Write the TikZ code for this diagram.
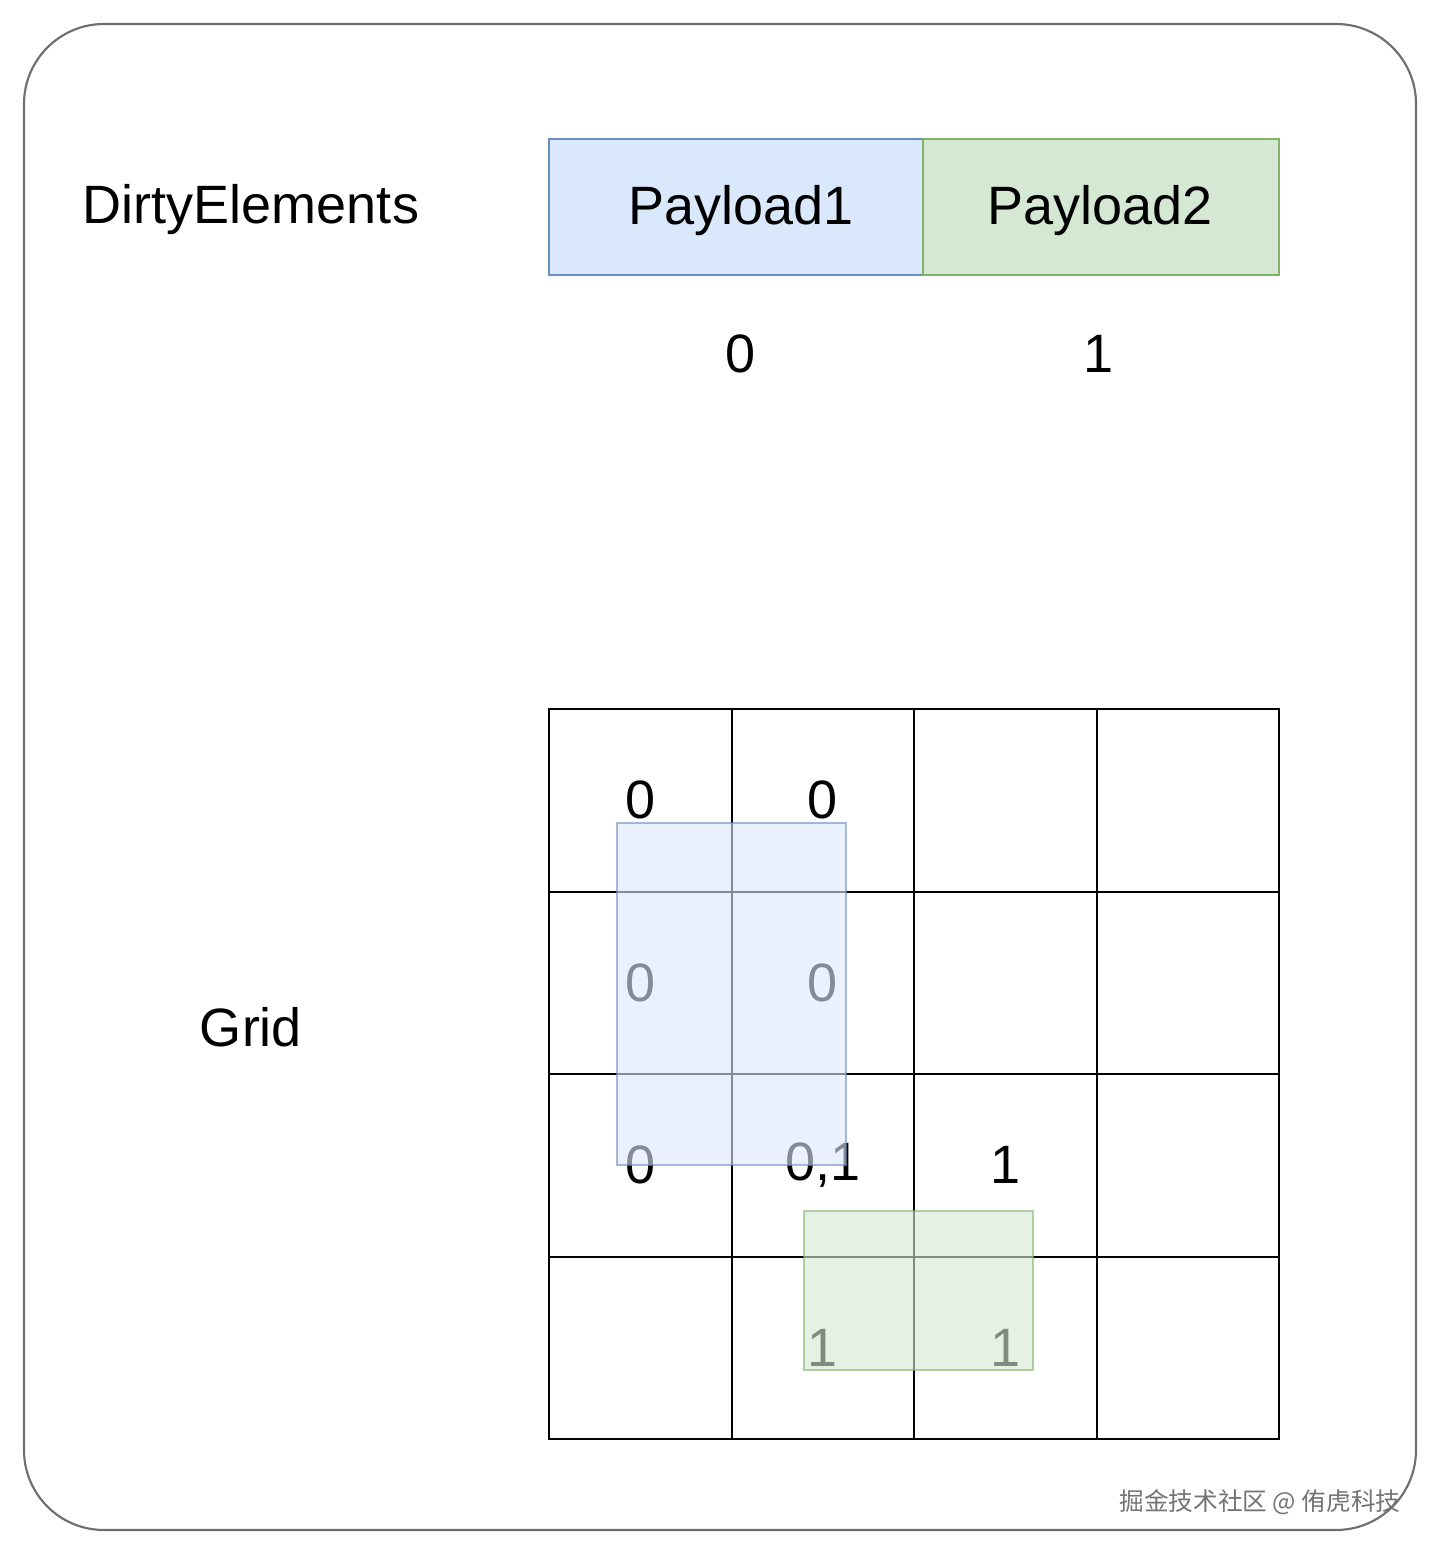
\documentclass[tikz,border=0pt]{standalone}
\usepackage{fontspec}
\setmainfont{Liberation Sans}
\newfontfamily\cjk{Noto Sans CJK SC}
\definecolor{bluefill}{HTML}{DAE8FC}
\definecolor{bluedraw}{HTML}{6C8EBF}
\definecolor{greenfill}{HTML}{D5E8D4}
\definecolor{greendraw}{HTML}{82B366}
\definecolor{frame}{HTML}{6E6E6E}
\begin{document}
\begin{tikzpicture}[x=0.75pt,y=-0.75pt,
  big/.style={font=\fontsize{40.5}{48}\selectfont, inner sep=0pt},
  cell/.style={draw=black, line width=1.5pt, minimum width=136.875pt, minimum height=136.875pt, inner sep=0pt, font=\fontsize{40.5}{48}\selectfont},
  payload/.style={line width=1.5pt, inner sep=0pt, minimum height=102pt, font=\fontsize{40.5}{48}\selectfont},
  overlay/.style={line width=1.5pt, fill opacity=0.6, draw opacity=0.6}]
\useasboundingbox (0,0) rectangle (1440,1554);
\draw[frame, line width=1.6pt, rounded corners=60pt] (24,24) rectangle (1416,1530);
% labels
\node[big] (de) at (251,210) {DirtyElements};
\node[big] (gl) at (251,1027) {Grid};
% payloads
\node[payload, draw=bluedraw, fill=bluefill, minimum width=280.5pt] (p1) at (736,207) {};
\node[payload, draw=greendraw, fill=greenfill, minimum width=267pt] (p2) at (1101,207) {};
\node[big] (t1) at (741,211) {Payload1};
\node[big] (t2) at (1100,211) {Payload2};
\node[big] (i0) at (741,354) {0};
\node[big] (i1) at (1099,354) {1};
% grid cells
\foreach \r/\y in {1/800.25,2/982.75,3/1165.25,4/1347.75}{
  \foreach \c/\x in {1/640.25,2/822.75,3/1005.25,4/1187.75}{
    \node[cell] (c\r\c) at (\x,\y) {};
  }
}
\node[big] at (c11) {0};
\node[big] at (c12) {0};
\node[big] at (c21) {0};
\node[big] at (c22) {0};
\node[big] at (c31) {0};
\node[big] at (c32) {0,1};
\node[big] at (c33) {1};
\node[big] at (c42) {1};
\node[big] at (c43) {1};
% translucent overlays
\draw[overlay, draw=bluedraw, fill=bluefill] (617,823) rectangle (846,1165);
\draw[overlay, draw=greendraw, fill=greenfill] (804,1211) rectangle (1033,1370);
% watermark
\node[font=\cjk\fontsize{18.5}{22}\selectfont, text=black!55, inner sep=0pt] (wm) at (1260,1502) {掘金技术社区 @ 侑虎科技};
\end{tikzpicture}
\end{document}
